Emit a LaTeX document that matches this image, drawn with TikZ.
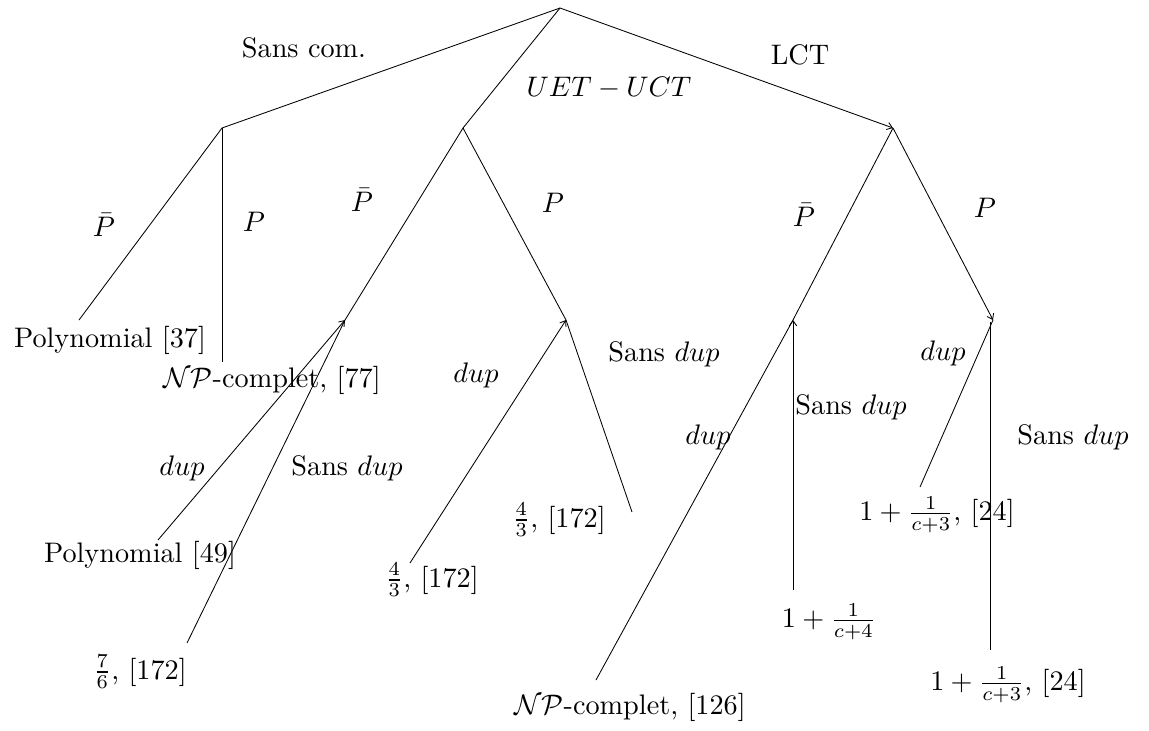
\documentclass[tikz,border=0pt]{standalone}
\usetikzlibrary{arrows.meta}

\begin{document}
\begin{tikzpicture}[
  x=0.354pt,y=-0.354pt,
  edge/.style={line width=0.3pt},
  upedge/.style={edge,-{Straight Barb[length=1.8pt,width=2.6pt]}},
  lab/.style={inner sep=0pt},
  leaf/.style={inner sep=0pt}
]
  \useasboundingbox (0,0) rectangle (1149,730);

  % branching points
  \coordinate (root) at (560,8);
  \coordinate (nocom) at (222,128);
  \coordinate (uet) at (463,128);
  \coordinate (lct) at (893,128);
  \coordinate (uetpb) at (345,320);
  \coordinate (uetp) at (566,320);
  \coordinate (lctpb) at (793,320);
  \coordinate (lctp) at (993,320);

  % free ends above the results
  \coordinate (e1) at (79,320);
  \coordinate (e2) at (222,362);
  \coordinate (e3) at (158,540);
  \coordinate (e4) at (187,643);
  \coordinate (e5) at (410,563);
  \coordinate (e6) at (632,512);
  \coordinate (e7) at (596,680);
  \coordinate (e8) at (793,590);
  \coordinate (e9) at (920,487);
  \coordinate (e10) at (990,650);

  \draw[edge] (root) -- (nocom);
  \draw[edge] (root) -- (uet);
  \draw[upedge] (root) -- (lct);
  \draw[edge] (nocom) -- (e1);
  \draw[edge] (nocom) -- (e2);
  \draw[edge] (uet) -- (uetpb);
  \draw[edge] (uet) -- (uetp);
  \draw[edge] (lct) -- (lctpb);
  \draw[upedge] (lct) -- (lctp);
  \draw[upedge] (e3) -- (uetpb);
  \draw[edge] (uetpb) -- (e4);
  \draw[upedge] (e5) -- (uetp);
  \draw[edge] (uetp) -- (e6);
  \draw[edge] (lctpb) -- (e7);
  \draw[upedge] (e8) -- (lctpb);
  \draw[edge] (lctp) -- (e9);
  \draw[edge] (990,322) -- (e10);

  % branch labels
  \node[lab] (lnocom) at (304,48) {Sans com.};
  \node[lab] (luet) at (609,88) {$UET-UCT$};
  \node[lab] (llct) at (800,55) {LCT};
  \node[lab] (l1) at (104,225) {$\bar{P}$};
  \node[lab] (l2) at (254,222) {$P$};
  \node[lab] (l3) at (362,200) {$\bar{P}$};
  \node[lab] (l4) at (553,203) {$P$};
  \node[lab] (l5) at (804,215) {$\bar{P}$};
  \node[lab] (l6) at (985,208) {$P$};
  \node[lab] (l7) at (182,468) {$dup$};
  \node[lab] (l8) at (347,468) {Sans $dup$};
  \node[lab] (l9) at (476,375) {$dup$};
  \node[lab] (l10) at (664,354) {Sans $dup$};
  \node[lab] (l11) at (708,437) {$dup$};
  \node[lab] (l12) at (851,407) {Sans $dup$};
  \node[lab] (l13) at (943,353) {$dup$};
  \node[lab] (l14) at (1073,437) {Sans $dup$};

  % results
  \node[leaf] (r1) at (110,340) {Polynomial [37]};
  \node[leaf] (r2) at (272,380) {$\mathcal{NP}$-complet, [77]};
  \node[leaf] (r3) at (140,555) {Polynomial [49]};
  \node[leaf] (r4) at (140,672) {$\frac{7}{6}$, [172]};
  \node[leaf] (r5) at (432,580) {$\frac{4}{3}$, [172]};
  \node[leaf] (r6) at (559,520) {$\frac{4}{3}$, [172]};
  \node[leaf] (r7) at (630,707) {$\mathcal{NP}$-complet, [126]};
  \node[leaf] (r8) at (829,622) {$1+\frac{1}{c+4}$};
  \node[leaf] (r9) at (937,515) {$1+\frac{1}{c+3}$, [24]};
  \node[leaf] (r10) at (1008,685) {$1+\frac{1}{c+3}$, [24]};
\end{tikzpicture}
\end{document}
